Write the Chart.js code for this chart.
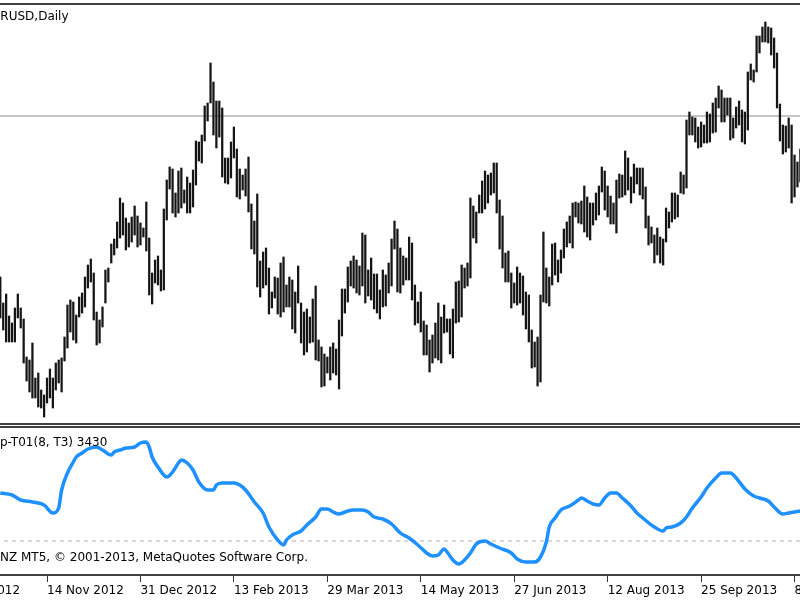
<!DOCTYPE html>
<html>
<head>
<meta charset="utf-8">
<script src="https://cdn.jsdelivr.net/npm/chart.js@4.4.1/dist/chart.umd.min.js"></script>
<style>
  html, body { margin: 0; padding: 0; background: #fff; }
  body { width: 800px; height: 600px; overflow: hidden; position: relative;
         font-family: 'DejaVu Sans', sans-serif; font-size: 12px; color: #000; }
  canvas { position: absolute; left: -60px; }
  #priceChart { top: 4px; }
  #indChart { top: 428px; }
  .rule { position: absolute; left: 0; width: 800px; height: 2px; background: #404040; }
  .label { position: absolute; white-space: nowrap; line-height: 14px; }
</style>
</head>
<body>
<canvas id="priceChart" width="880" height="420"></canvas>
<canvas id="indChart" width="880" height="172"></canvas>
<div class="rule" style="top:3px"></div>
<div class="rule" style="top:423px"></div>
<div class="rule" style="top:426px"></div>
<div class="rule" style="top:574px"></div>
<div class="label" style="left:-16px; top:9px">EURUSD,Daily</div>
<div class="label" style="left:0px; top:435px">p-T01(8, T3) 3430</div>
<div class="label" style="left:0px; top:550px">NZ MT5, © 2001-2013, MetaQuotes Software Corp.</div>
<script>
// Daily bars, one per trading day, left to right (index 0 = first bar on screen)
const highs = [
  1.3069, 1.2991, 1.3018, 1.2952, 1.2931, 1.2976, 1.3018, 1.2976, 1.2943, 1.2829,
  1.2820, 1.2871, 1.2766, 1.2781, 1.2730, 1.2715, 1.2766, 1.2793, 1.2766, 1.2811,
  1.2820, 1.2826, 1.2889, 1.2985, 1.3000, 1.2994, 1.2955, 1.3009, 1.3021, 1.3069,
  1.3105, 1.3123, 1.3081, 1.2964, 1.2940, 1.2979, 1.3090, 1.3096, 1.3168, 1.3183,
  1.3234, 1.3306, 1.3291, 1.3246, 1.3231, 1.3249, 1.3282, 1.3252, 1.3231, 1.3216,
  1.3294, 1.3186, 1.3081, 1.3120, 1.3132, 1.3090, 1.3273, 1.3360, 1.3399, 1.3393,
  1.3321, 1.3387, 1.3396, 1.3330, 1.3369, 1.3351, 1.3390, 1.3477, 1.3474, 1.3495,
  1.3582, 1.3591, 1.3711, 1.3654, 1.3597, 1.3597, 1.3576, 1.3426, 1.3426, 1.3474,
  1.3519, 1.3453, 1.3393, 1.3375, 1.3393, 1.3429, 1.3288, 1.3237, 1.3318, 1.3117,
  1.3144, 1.3156, 1.3096, 1.3024, 1.3069, 1.3066, 1.3111, 1.3129, 1.3045, 1.3069,
  1.3060, 1.3024, 1.3102, 1.2991, 1.2964, 1.2973, 1.2949, 1.3003, 1.3042, 1.2880,
  1.2859, 1.2838, 1.2829, 1.2859, 1.2871, 1.2853, 1.2940, 1.3033, 1.3033, 1.3099,
  1.3117, 1.3132, 1.3120, 1.3102, 1.3201, 1.3195, 1.3090, 1.3126, 1.3078, 1.3078,
  1.3030, 1.3090, 1.3075, 1.3111, 1.3183, 1.3237, 1.3213, 1.3156, 1.3132, 1.3126,
  1.3189, 1.3171, 1.3045, 1.2994, 1.3024, 1.2937, 1.2925, 1.2880, 1.2895, 1.2931,
  1.2991, 1.2949, 1.2985, 1.2943, 1.2943, 1.2973, 1.3054, 1.3057, 1.3105, 1.3096,
  1.3111, 1.3306, 1.3282, 1.3264, 1.3315, 1.3357, 1.3387, 1.3375, 1.3381, 1.3411,
  1.3411, 1.3300, 1.3252, 1.3141, 1.3147, 1.3081, 1.3051, 1.3099, 1.3081, 1.3072,
  1.3024, 1.3015, 1.2910, 1.2874, 1.2889, 1.3015, 1.3204, 1.3096, 1.3069, 1.3168,
  1.3171, 1.3120, 1.3150, 1.3213, 1.3234, 1.3252, 1.3291, 1.3294, 1.3291, 1.3297,
  1.3342, 1.3309, 1.3291, 1.3291, 1.3321, 1.3342, 1.3399, 1.3387, 1.3342, 1.3312,
  1.3291, 1.3360, 1.3378, 1.3375, 1.3447, 1.3426, 1.3369, 1.3408, 1.3396, 1.3396,
  1.3396, 1.3339, 1.3252, 1.3219, 1.3195, 1.3216, 1.3189, 1.3183, 1.3276, 1.3264,
  1.3321, 1.3321, 1.3315, 1.3384, 1.3375, 1.3540, 1.3564, 1.3549, 1.3546, 1.3519,
  1.3534, 1.3525, 1.3564, 1.3558, 1.3591, 1.3606, 1.3642, 1.3630, 1.3606, 1.3606,
  1.3606, 1.3546, 1.3579, 1.3597, 1.3570, 1.3564, 1.3684, 1.3708, 1.3690, 1.3792,
  1.3792, 1.3819, 1.3834, 1.3819, 1.3816, 1.3786, 1.3741, 1.3588, 1.3525, 1.3522,
  1.3546, 1.3525, 1.3435, 1.3414, 1.3453
];
const lows = [
  1.2946, 1.2910, 1.2874, 1.2874, 1.2874, 1.2874, 1.2946, 1.2916, 1.2811, 1.2757,
  1.2724, 1.2706, 1.2706, 1.2679, 1.2676, 1.2649, 1.2691, 1.2706, 1.2676, 1.2730,
  1.2751, 1.2724, 1.2817, 1.2856, 1.2904, 1.2880, 1.2871, 1.2949, 1.2961, 1.2979,
  1.3036, 1.3054, 1.2940, 1.2865, 1.2871, 1.2919, 1.2991, 1.3054, 1.3111, 1.3135,
  1.3156, 1.3186, 1.3195, 1.3150, 1.3159, 1.3174, 1.3195, 1.3159, 1.3165, 1.3189,
  1.3147, 1.3015, 1.2988, 1.3051, 1.3045, 1.3027, 1.3030, 1.3240, 1.3333, 1.3261,
  1.3249, 1.3261, 1.3276, 1.3291, 1.3261, 1.3261, 1.3279, 1.3345, 1.3417, 1.3411,
  1.3477, 1.3537, 1.3591, 1.3495, 1.3456, 1.3489, 1.3369, 1.3351, 1.3348, 1.3366,
  1.3426, 1.3309, 1.3303, 1.3330, 1.3312, 1.3264, 1.3153, 1.3138, 1.3039, 1.3009,
  1.3036, 1.3045, 1.2958, 1.2976, 1.3006, 1.2958, 1.2949, 1.2964, 1.2979, 1.2979,
  1.2913, 1.2901, 1.2991, 1.2871, 1.2835, 1.2844, 1.2871, 1.2874, 1.2820, 1.2817,
  1.2739, 1.2742, 1.2781, 1.2760, 1.2781, 1.2775, 1.2733, 1.2892, 1.2961, 1.2994,
  1.3042, 1.3036, 1.3021, 1.3015, 1.3042, 1.2991, 1.3012, 1.3000, 1.2973, 1.2961,
  1.2943, 1.2979, 1.2982, 1.3021, 1.3042, 1.3153, 1.3024, 1.3021, 1.3045, 1.3060,
  1.3060, 1.3000, 1.2925, 1.2931, 1.2904, 1.2835, 1.2835, 1.2784, 1.2811, 1.2826,
  1.2820, 1.2811, 1.2901, 1.2904, 1.2838, 1.2826, 1.2931, 1.2934, 1.2949, 1.3036,
  1.3042, 1.3066, 1.3186, 1.3171, 1.3261, 1.3261, 1.3273, 1.3291, 1.3315, 1.3321,
  1.3261, 1.3153, 1.3096, 1.3054, 1.3054, 1.2976, 1.2991, 1.2985, 1.2991, 1.2955,
  1.2913, 1.2874, 1.2796, 1.2799, 1.2742, 1.2754, 1.2994, 1.2991, 1.2982, 1.3045,
  1.3075, 1.3054, 1.3081, 1.3126, 1.3159, 1.3171, 1.3156, 1.3249, 1.3231, 1.3228,
  1.3204, 1.3189, 1.3180, 1.3225, 1.3240, 1.3255, 1.3324, 1.3270, 1.3249, 1.3228,
  1.3228, 1.3201, 1.3306, 1.3309, 1.3315, 1.3330, 1.3291, 1.3321, 1.3348, 1.3315,
  1.3303, 1.3216, 1.3165, 1.3171, 1.3111, 1.3135, 1.3111, 1.3105, 1.3174, 1.3216,
  1.3234, 1.3243, 1.3249, 1.3321, 1.3318, 1.3336, 1.3495, 1.3495, 1.3474, 1.3456,
  1.3459, 1.3471, 1.3471, 1.3474, 1.3501, 1.3504, 1.3576, 1.3534, 1.3534, 1.3555,
  1.3480, 1.3486, 1.3516, 1.3525, 1.3474, 1.3468, 1.3510, 1.3660, 1.3654, 1.3684,
  1.3741, 1.3774, 1.3774, 1.3771, 1.3735, 1.3696, 1.3576, 1.3477, 1.3438, 1.3444,
  1.3456, 1.3291, 1.3309, 1.3339, 1.3354
];
const bidPrice = 1.3552;

// Indicator sub-window: bar index -> value
const indBars = [0, 4, 7, 11, 15, 18, 20, 21, 23, 25, 26, 28, 30, 33, 35, 38, 39, 41, 43, 46,
  48, 50, 51, 52, 54, 56, 57, 59, 61, 62, 64, 66, 68, 71, 73, 74, 76, 80, 82, 84,
  87, 90, 92, 95, 97, 98, 100, 103, 105, 108, 110, 112, 114, 116, 119, 121, 124, 126, 128, 131,
  134, 137, 140, 143, 146, 148, 150, 152, 153, 155, 157, 159, 161, 163, 166, 168, 171, 175, 177, 180,
  183, 185, 187, 188, 190, 192, 195, 198, 199, 201, 203, 205, 207, 209, 211, 213, 216, 218, 220, 224,
  227, 228, 230, 233, 235, 237, 240, 242, 245, 247, 250, 252, 255, 258, 260, 263, 265, 268, 270, 274];
const indValues = [82, 80, 75, 73, 70, 62, 67, 85, 102, 113, 118, 122, 126, 128, 125, 120, 123, 125, 127, 128,
  132, 133, 128, 118, 108, 100, 98, 103, 112, 115, 112, 105, 93, 85, 85, 90, 92, 92, 90, 85,
  73, 62, 48, 35, 30, 35, 40, 44, 50, 58, 66, 66, 63, 61, 64, 65, 65, 63, 58, 56,
  51, 42, 37, 30, 22, 19, 20, 26, 23, 15, 11, 15, 22, 31, 34, 31, 27, 22, 16, 13,
  13, 18, 33, 48, 57, 65, 69, 75, 77, 74, 71, 70, 77, 82, 82, 77, 69, 62, 57, 48,
  44, 47, 48, 52, 58, 67, 78, 87, 97, 102, 102, 97, 86, 79, 77, 74, 68, 61, 62, 64];
const indLevel = 34;

// Time axis labels, placed at bar indices
const tickBars = [-16, 16, 48, 80, 112, 144, 176, 208, 240, 272];
const tickLabels = ['1 Oct 2012', '14 Nov 2012', '31 Dec 2012', '13 Feb 2013', '29 Mar 2013',
  '14 May 2013', '27 Jun 2013', '12 Aug 2013', '25 Sep 2013', '8 Nov 2013'];

// visible bar range of the 880px canvases (shifted 60px left of the page)
const X_MIN = -20.651;
const X_MAX = 280.719;

Chart.defaults.font.family = "'DejaVu Sans', sans-serif";
Chart.defaults.font.size = 12;
Chart.defaults.color = '#000';

const bars = highs.map((h, i) => ({ x: i, y: [lows[i], h] }));

new Chart(document.getElementById('priceChart'), {
  type: 'bar',
  data: {
    datasets: [
      {
        type: 'bar',
        data: bars,
        backgroundColor: '#151515',
        barThickness: 1.6,
        grouped: false,
        order: 1
      },
      {
        type: 'line',
        data: [{ x: X_MIN, y: bidPrice }, { x: X_MAX, y: bidPrice }],
        borderColor: '#c4c4c4',
        borderWidth: 2,
        pointRadius: 0,
        order: 2
      }
    ]
  },
  options: {
    responsive: false,
    animation: false,
    plugins: { legend: { display: false }, tooltip: { enabled: false } },
    scales: {
      x: { type: 'linear', min: X_MIN, max: X_MAX, offset: false, display: false },
      y: { min: 1.2628, max: 1.3888, display: false }
    }
  }
});

const indPoints = indBars.map((b, i) => ({ x: b, y: indValues[i] }));

new Chart(document.getElementById('indChart'), {
  type: 'line',
  data: {
    datasets: [
      {
        data: indPoints,
        borderColor: '#1e90ff',
        borderWidth: 3.5,
        pointRadius: 0,
        cubicInterpolationMode: 'monotone',
        order: 1
      },
      {
        data: [{ x: X_MIN, y: indLevel }, { x: X_MAX, y: indLevel }],
        borderColor: '#b0b0b0',
        borderWidth: 1,
        borderDash: [4, 4],
        pointRadius: 0,
        order: 2
      }
    ]
  },
  options: {
    responsive: false,
    animation: false,
    plugins: { legend: { display: false }, tooltip: { enabled: false } },
    scales: {
      x: {
        type: 'linear',
        min: X_MIN,
        max: X_MAX,
        offset: false,
        position: 'bottom',
        afterBuildTicks: (scale) => { scale.ticks = tickBars.map(v => ({ value: v })); },
        afterFit: (scale) => {
          // same horizontal mapping as the price window: no room reserved for overhanging labels
          scale.height = 25;
          scale.paddingLeft = 0;
          scale.paddingRight = 0;
        },
        border: { display: false },
        grid: { drawOnChartArea: false, drawTicks: true, tickLength: 7, tickColor: '#333', tickWidth: 1 },
        ticks: {
          align: 'start',
          padding: 2,
          maxRotation: 0,
          autoSkip: false,
          callback: (value, index) => tickLabels[index]
        }
      },
      y: { min: 0, max: 147, display: false }
    }
  }
});
</script>
</body>
</html>
